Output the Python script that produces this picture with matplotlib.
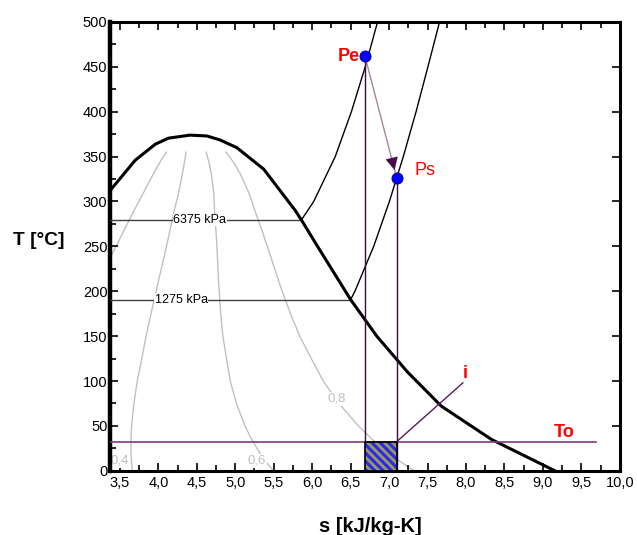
import matplotlib
matplotlib.use("Agg")
import matplotlib.pyplot as plt
from matplotlib.patches import Rectangle
from matplotlib.ticker import MultipleLocator, FuncFormatter

plt.rcParams['font.family'] = ['Liberation Sans', 'DejaVu Sans']
plt.rcParams['hatch.linewidth'] = 2.0

# saturation table (quality lines), T in C, s in kJ/kg-K
T_sat = [0.01, 10, 20, 35, 50, 75, 100, 125, 150, 175, 190, 210, 225, 240, 250, 260,
         275, 290, 300, 310, 320, 330, 340, 345, 350, 355]
s_f = [0.0, 0.1511, 0.2965, 0.5051, 0.7038, 1.0158, 1.3072, 1.5813, 1.8418, 2.0909,
       2.2355, 2.4245, 2.5639, 2.7015, 2.7935, 2.8848, 3.0223, 3.1618, 3.2559, 3.3536,
       3.4500, 3.5518, 3.6601, 3.7170, 3.7784, 3.8450]
s_g = [9.1556, 8.8999, 8.6661, 8.3517, 8.0748, 7.6824, 7.3541, 7.0900, 6.8371, 6.6251,
       6.5079, 6.3563, 6.2503, 6.1437, 6.0729, 6.0008, 5.8912, 5.7757, 5.7070, 5.6299,
       5.5419, 5.4491, 5.3388, 5.2770, 5.2110, 5.1370]
qualities = [0.2, 0.4, 0.6, 0.8]

# dome (thick line) as drawn
s_dome = [3.2548, 3.70, 3.96, 4.13, 4.41, 4.63, 4.80, 5.02, 5.37, 5.78, 5.86, 6.07,
          6.50, 6.84, 7.24, 7.68, 8.33, 9.156]
T_dome = [300, 346, 363.8, 370.5, 373.9, 373, 368.6, 360, 336, 290, 279.4, 250,
          190.7, 150, 110, 72, 35, 0.01]

# isobars: superheated part
p_hi, T_hi = 6375, 279.4
s_hi = [5.86, 6.02, 6.30, 6.51, 6.69, 6.85]
Th_hi = [279.4, 300, 350, 400, 450, 500]
p_lo, T_lo = 1275, 190.7
s_lo = [6.50, 6.556, 6.80, 7.004, 7.185, 7.351, 7.505, 7.656]
Tl_lo = [190.7, 200, 250, 300, 350, 400, 450, 500]

# states
s_pe, T_pe = 6.686, 462
s_ps, T_ps = 7.10, 326
T_o = 32.5
s_o_end = 9.69
s_i, T_i = 7.96, 98

fig = plt.figure(figsize=(6.37, 5.35), dpi=100)
ax = fig.add_axes([0.173, 0.12, 0.8, 0.839])
ax.set_xlim(3.374, 10.0)
ax.set_ylim(0, 500)

# quality lines
for q in qualities:
    s_q = [a + q * (b - a) for a, b in zip(s_f, s_g)]
    ax.plot(s_q, T_sat, color='#c0c0c0', lw=1.0, zorder=1)
qlab = dict(color='#c0c0c0', fontsize=9.5, ha='center', va='center',
            bbox=dict(facecolor='white', edgecolor='none', pad=0.5), zorder=2)
ax.text(3.50, 11, '0,4', **qlab)
ax.text(5.28, 11, '0,6', **qlab)
ax.text(6.32, 80, '0,8', **qlab)

# dome
ax.plot(s_dome, T_dome, color='black', lw=2.2, zorder=4)

# isobars
ax.plot([3.374, s_hi[0]], [T_hi, T_hi], color='#404040', lw=1.0, zorder=3)
ax.plot(s_hi, Th_hi, color='black', lw=1.0, zorder=3)
ax.plot([3.374, s_lo[0]], [T_lo, T_lo], color='#404040', lw=1.0, zorder=3)
ax.plot(s_lo, Tl_lo, color='black', lw=1.0, zorder=3)
plab = dict(color='black', fontsize=9, ha='center', va='center',
            bbox=dict(facecolor='white', edgecolor='none', pad=0.3), zorder=3)
ax.text(4.54, T_hi, '%d kPa' % p_hi, **plab)
ax.text(4.30, T_lo, '%d kPa' % p_lo, **plab)

# process lines
ax.plot([s_pe, s_pe], [0, T_pe], color='#3c0a3c', lw=1.0, zorder=5)
ax.plot([s_ps, s_ps], [0, T_ps], color='#3c0a3c', lw=1.0, zorder=5)
ax.plot([s_pe, s_ps], [T_pe, T_ps], color='#a088a0', lw=1.0, zorder=5)
ax.annotate('', xy=(s_ps - 0.02, T_ps + 6), xytext=(s_ps - 0.07, T_ps + 24),
            arrowprops=dict(arrowstyle='-|>', color='#4a0a4a', lw=0.1,
                            mutation_scale=22), zorder=6)
ax.plot([3.374, s_o_end], [T_o, T_o], color='#7b3b7b', lw=1.2, zorder=5)
ax.plot([s_ps, s_i], [T_o, T_i], color='#5a1a5a', lw=1.0, zorder=5)

# hatched box
ax.add_patch(Rectangle((s_pe, 0), s_ps - s_pe, T_o, facecolor='#2a2ae8',
                       edgecolor='#9a9a60', hatch='\\\\\\\\', lw=0, zorder=6))
ax.add_patch(Rectangle((s_pe, 0), s_ps - s_pe, T_o, facecolor='none',
                       edgecolor='black', lw=1.2, zorder=7))

# state points
ax.plot([s_pe, s_ps], [T_pe, T_ps], 'o', color='#0000ff', markersize=8,
        markeredgecolor='#000080', markeredgewidth=0.6, zorder=8)
ax.text(s_pe - 0.06, T_pe, 'Pe', color='red', fontsize=13, fontweight='bold',
        ha='right', va='center')
ax.text(s_ps + 0.23, T_ps + 8, 'Ps', color='red', fontsize=13, ha='left', va='center')
ax.text(s_i + 0.03, T_i + 10, 'i', color='red', fontsize=13, fontweight='bold',
        ha='center', va='center')
ax.text(9.27, 43, 'To', color='red', fontsize=13, fontweight='bold',
        ha='center', va='center')

# axes styling
ax.xaxis.set_major_locator(MultipleLocator(0.5))
ax.xaxis.set_minor_locator(MultipleLocator(0.25))
ax.yaxis.set_major_locator(MultipleLocator(50))
ax.yaxis.set_minor_locator(MultipleLocator(25))
ax.xaxis.set_major_formatter(FuncFormatter(lambda v, p: ('%.1f' % v).replace('.', ',')))
ax.tick_params(which='both', direction='in', top=True, right=True, labelsize=10.5, width=1.2)
ax.tick_params(which='major', length=6, pad=4)
ax.tick_params(which='minor', length=4)
ax.tick_params(axis='y', which='minor', right=False)
ax.tick_params(axis='y', pad=2)
for side in ['top', 'right', 'bottom']:
    ax.spines[side].set_linewidth(2.2)
ax.spines['left'].set_linewidth(3.2)

fig.text(0.061, 0.551, 'T [°C]', fontsize=13.8, fontweight='bold', ha='center', va='center')
fig.text(0.581, 0.015, 's [kJ/kg-K]', fontsize=14.5, fontweight='bold', ha='center', va='center')

fig.savefig('out.png', dpi=100)
